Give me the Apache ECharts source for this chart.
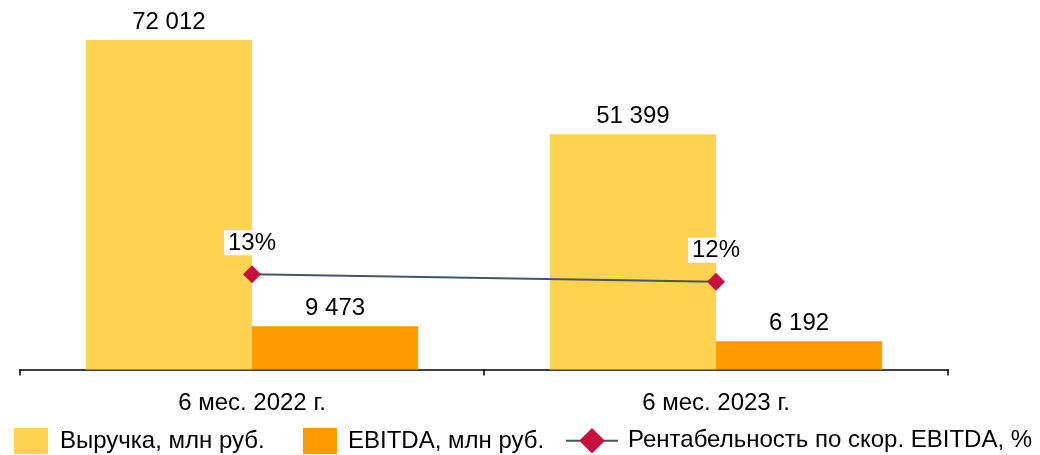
<!DOCTYPE html>
<html>
<head>
<meta charset="utf-8">
<script src="https://cdn.jsdelivr.net/npm/echarts@6/dist/echarts.min.js"></script>
<style>
  html, body { margin: 0; padding: 0; background: #fff; }
  #chart { width: 1040px; height: 455px; }
</style>
</head>
<body>
<div id="chart"></div>
<script>
// Periods on the category axis
const categories = ['6 мес. 2022 г.', '6 мес. 2023 г.'];
// Revenue and EBITDA, mln RUB
const revenue = [72012, 51399];
const ebitda = [9473, 6192];
// Adjusted EBITDA margin, %
const margin = [13, 12];

const seriesNames = ['Выручка, млн руб.', 'EBITDA, млн руб.', 'Рентабельность по скор. EBITDA, %'];

const FONT = '"Liberation Sans", Arial, sans-serif';
const FS = 24;
const fmtThousands = v => String(v).replace(/\B(?=(\d{3})+(?!\d))/g, ' ');

const chart = echarts.init(document.getElementById('chart'), null, { renderer: 'canvas' });

const legendText = pad => ({ fontSize: FS, color: '#000', fontFamily: FONT, padding: [0, 0, 0, pad] });

chart.setOption({
  animation: false,
  textStyle: { fontFamily: FONT },
  grid: { left: 20, right: 92, top: 3.5, bottom: 85.5, containLabel: false },
  legend: [
    {
      data: [{ name: seriesNames[0], icon: 'rect' }], left: 14, top: 428, padding: 0,
      itemWidth: 34, itemHeight: 26, textStyle: legendText(7)
    },
    {
      data: [{ name: seriesNames[1], icon: 'rect' }], left: 303, top: 428, padding: 0,
      itemWidth: 34, itemHeight: 26, textStyle: legendText(6)
    },
    {
      data: [seriesNames[2]], left: 565, top: 428, padding: 0,
      itemWidth: 52, itemHeight: 32, textStyle: legendText(5)
    }
  ],
  xAxis: {
    type: 'category',
    data: categories,
    axisLine: { lineStyle: { color: '#000', width: 1.5 } },
    axisTick: { show: true, length: 6, lineStyle: { color: '#000', width: 1.5 } },
    axisLabel: { fontSize: FS, color: '#000', margin: 22, fontFamily: FONT }
  },
  yAxis: [
    { type: 'value', min: 0, max: 80000, show: false },
    { type: 'value', min: 0, max: 50, show: false }
  ],
  series: [
    {
      name: seriesNames[0], type: 'bar', data: revenue,
      barGap: '0%', barCategoryGap: '28.4%',
      itemStyle: { color: '#FFD34F' },
      label: {
        show: true, position: 'top', distance: 6, fontSize: FS, color: '#000', fontFamily: FONT,
        formatter: p => fmtThousands(p.value)
      }
    },
    {
      name: seriesNames[1], type: 'bar', data: ebitda,
      itemStyle: { color: '#FF9A00' },
      label: {
        show: true, position: 'top', distance: 6, fontSize: FS, color: '#000', fontFamily: FONT,
        formatter: p => fmtThousands(p.value)
      }
    },
    {
      name: seriesNames[2], type: 'line', yAxisIndex: 1, data: margin,
      symbol: 'diamond', symbolSize: 18,
      lineStyle: { color: '#44546A', width: 2 },
      itemStyle: { color: '#C8103E' },
      label: {
        show: true, position: 'top', distance: 10, fontSize: FS, lineHeight: 24, color: '#000', fontFamily: FONT,
        backgroundColor: '#fff', padding: [1, 4, 0, 4],
        formatter: p => p.value + '%'
      },
      z: 5
    }
  ]
});
</script>
</body>
</html>
